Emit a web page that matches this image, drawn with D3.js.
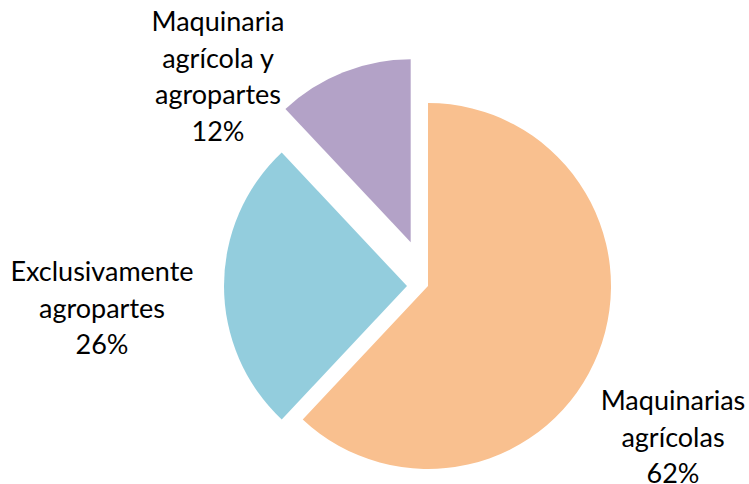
<!DOCTYPE html>
<html>
<head>
<meta charset="utf-8">
<script src="https://cdn.jsdelivr.net/npm/d3@7"></script>
<style>
  body { margin: 0; background: #fff; }
  text { font-family: Lato, "Open Sans", sans-serif; fill: #000; }
</style>
</head>
<body>
<div class="chart"></div>
<script>
const categories = ["Maquinarias agrícolas", "Exclusivamente agropartes", "Maquinaria agrícola y agropartes"];
const values = [62, 26, 12];
const labelLines = [
    ["Maquinarias", "agrícolas", "62%"],
    ["Exclusivamente", "agropartes", "26%"],
    ["Maquinaria", "agrícola y", "agropartes", "12%"]
];
const colors = ["#f9c08f", "#93cddd", "#b3a2c7"];

const w = 749;
const h = 484;
const cx = 428, cy = 286;
const radius = 183;
const explode = [0, 21, 47];               // how far each slice is pulled out
const labelCenter = [[673, 401], [102, 272], [218, 22]]; // first line centre of each label
const lineH = 36.5;

const svg = d3.select('.chart').append('svg')
    .attr('width', w)
    .attr('height', h);

const pie = d3.pie().sort(null).value(d => d);
const arc = d3.arc().innerRadius(0).outerRadius(radius);
const arcs = pie(values);

const g = svg.append('g').attr('transform', `translate(${cx},${cy})`);

g.selectAll('path')
    .data(arcs)
    .enter()
    .append('path')
    .attr('d', arc)
    .attr('fill', (d, i) => colors[i])
    .attr('transform', (d, i) => {
        const a = (d.startAngle + d.endAngle) / 2;
        return `translate(${explode[i] * Math.sin(a)},${-explode[i] * Math.cos(a)})`;
    });

//labels, centred, several lines each
const lbl = svg.selectAll('.lbl')
    .data(arcs)
    .enter()
    .append('text')
    .attr('class', 'lbl')
    .attr('text-anchor', 'middle')
    .style('font-size', '27px');

lbl.each(function(d, i) {
    const t = d3.select(this);
    labelLines[i].forEach((s, j) => {
        t.append('tspan')
            .attr('x', labelCenter[i][0])
            .attr('y', labelCenter[i][1] + j * lineH)
            .attr('dy', '0.35em')
            .text(s);
    });
});
</script>
</body>
</html>
